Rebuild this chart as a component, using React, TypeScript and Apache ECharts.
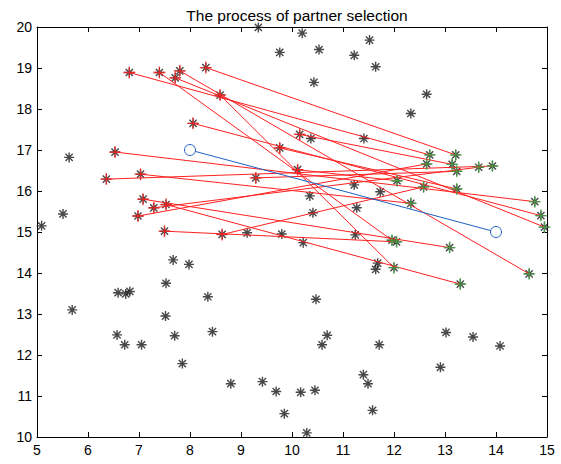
import React, { useEffect, useRef } from "react";
import * as echarts from "echarts";

const xTicks = [5, 6, 7, 8, 9, 10, 11, 12, 13, 14, 15];
const yTicks = [10, 11, 12, 13, 14, 15, 16, 17, 18, 19, 20];

// All individuals (black stars)
const population: number[][] = [
  [9.34, 19.99], [9.76, 19.38], [5.63, 16.82], [5.51, 15.44], [5.09, 15.15],
  [10.2, 19.85], [10.53, 19.45], [11.22, 19.31], [11.52, 19.68], [11.64, 19.03],
  [10.43, 18.65], [12.64, 18.36], [12.33, 17.89], [10.37, 17.28], [11.41, 17.28],
  [11.22, 16.15], [11.73, 15.98], [10.35, 15.88], [11.27, 15.59], [10.41, 15.47],
  [9.12, 14.98], [9.8, 14.95], [7.67, 14.32], [7.98, 14.21], [7.53, 13.75],
  [6.59, 13.52], [6.74, 13.49], [6.82, 13.55], [8.35, 13.42], [5.69, 13.1],
  [7.52, 12.95], [8.44, 12.57], [6.57, 12.49], [7.7, 12.47], [6.72, 12.25],
  [7.05, 12.25], [7.85, 11.79], [8.8, 11.3], [9.42, 11.35], [9.69, 11.11],
  [9.85, 10.57], [10.17, 11.09], [11.24, 14.93], [10.22, 14.74], [11.68, 14.24],
  [11.64, 14.09], [10.47, 13.36], [10.69, 12.48], [10.59, 12.25], [11.71, 12.25],
  [13.02, 12.55], [13.55, 12.44], [14.08, 12.22], [12.91, 11.7], [11.4, 11.52],
  [11.49, 11.3], [10.45, 11.14], [11.58, 10.65], [10.29, 10.1],
];

// Selected partners: red (choosers) paired index-wise with green (chosen)
const choosers: number[][] = [
  [8.31, 19.01], [6.81, 18.89], [7.4, 18.89], [7.8, 18.93], [7.71, 18.76],
  [8.59, 18.34], [8.06, 17.65], [6.53, 16.95], [6.36, 16.29], [7.03, 16.41],
  [7.08, 15.8], [7.29, 15.59], [6.98, 15.39], [7.5, 15.02], [8.63, 14.94],
  [7.53, 15.67], [10.15, 17.38], [9.76, 17.05], [9.29, 16.32], [10.11, 16.52],
];
const chosen: number[][] = [
  [13.21, 16.88], [12.7, 16.88], [11.96, 14.8], [14.65, 13.98], [14.95, 15.12],
  [12.0, 14.13], [14.88, 15.4], [14.76, 15.74], [13.93, 16.61], [12.33, 15.7],
  [13.09, 14.62], [13.66, 16.58], [12.64, 16.66], [12.05, 14.76], [12.58, 16.1],
  [13.3, 13.73], [13.14, 16.65], [13.23, 16.05], [13.23, 16.48], [12.06, 16.25],
];

// Best pair (blue circles)
const bestPair: number[][] = [
  [8, 17],
  [14, 15],
];

const STAR = "path://M0,-5L0,5M-5,0L5,0M-3.6,-3.6L3.6,3.6M-3.6,3.6L3.6,-3.6";
const PLUS = "path://M0,-5L0,5M-5,0L5,0";
const FONT = "Liberation Sans, Arial, sans-serif";

export default function App() {
  const ref = useRef<HTMLDivElement>(null);
  useEffect(() => {
    if (!ref.current) return;
    const chart = echarts.init(ref.current, null, { renderer: "svg" });
    const grid = { left: 37, right: 14, top: 27, bottom: 27 };
    const axisBase = {
      min: 5,
      max: 15,
      interval: 1,
      axisLine: { show: true, onZero: false, lineStyle: { color: "#000", width: 1 } },
      axisTick: { show: true, inside: true, length: 5, lineStyle: { color: "#000" } },
      splitLine: { show: false },
    };
    const allBlack = population.concat(choosers, chosen);
    chart.setOption({
      animation: false,
      title: {
        text: "The process of partner selection",
        left: 292,
        top: 2,
        textAlign: "center",
        textStyle: { fontSize: 15.5, fontWeight: "normal", color: "#000", fontFamily: FONT },
      },
      grid,
      xAxis: [
        {
          ...axisBase,
          type: "value",
          position: "bottom",
          axisLabel: { show: true, color: "#000", fontSize: 14, fontFamily: FONT, margin: 6,
            formatter: (v: number) => (xTicks.includes(v) ? String(v) : "") },
        },
        {
          ...axisBase,
          type: "value",
          position: "top",
          axisLabel: { show: false },
        },
      ],
      yAxis: [
        {
          ...axisBase,
          type: "value",
          min: 10,
          max: 20,
          position: "left",
          axisLabel: { show: true, color: "#000", fontSize: 14, fontFamily: FONT, margin: 5,
            formatter: (v: number) => (yTicks.includes(v) ? String(v) : "") },
        },
        {
          ...axisBase,
          type: "value",
          min: 10,
          max: 20,
          position: "right",
          axisLabel: { show: false },
        },
      ],
      series: [
        {
          type: "scatter",
          data: allBlack,
          symbol: STAR,
          symbolSize: 10,
          itemStyle: { color: "rgba(0,0,0,0)", borderColor: "#1a1a1a", borderWidth: 1.4 },
          z: 2,
        },
        {
          type: "lines",
          coordinateSystem: "cartesian2d",
          data: choosers.map((p, i) => ({ coords: [p, chosen[i]] })),
          lineStyle: { color: "#ff2020", width: 1, opacity: 1 },
          z: 3,
        },
        {
          type: "scatter",
          data: choosers,
          symbol: PLUS,
          symbolSize: 12,
          itemStyle: { color: "rgba(0,0,0,0)", borderColor: "#ff2020", borderWidth: 1.3 },
          z: 4,
        },
        {
          type: "scatter",
          data: chosen,
          symbol: PLUS,
          symbolSize: 12,
          itemStyle: { color: "rgba(0,0,0,0)", borderColor: "#44aa44", borderWidth: 1.3 },
          z: 4,
        },
        {
          type: "line",
          data: bestPair,
          symbol: "circle",
          symbolSize: 11,
          showAllSymbol: true,
          lineStyle: { color: "#1f62c0", width: 1 },
          itemStyle: { color: "#fff", borderColor: "#1f62c0", borderWidth: 1 },
          z: 5,
        },
      ],
    });
    return () => chart.dispose();
  }, []);
  return <div ref={ref} style={{ position: "fixed", left: 0, top: 0, width: 561, height: 464, background: "#fff" }} />;
}
